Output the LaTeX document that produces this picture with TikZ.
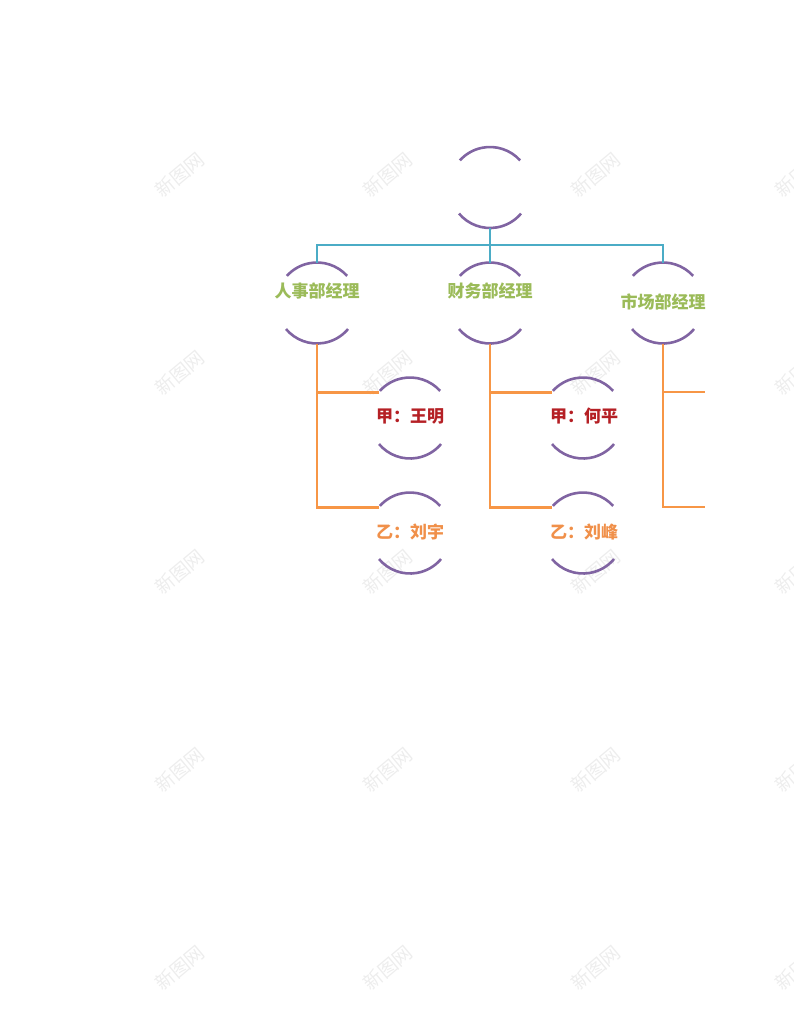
\documentclass[tikz,border=0pt]{standalone}
\usepackage{fontspec}
\newfontfamily\cjk{Noto Sans CJK SC}
\definecolor{arcpurple}{HTML}{8064A2}
\definecolor{linkblue}{HTML}{4BACC6}
\definecolor{linkorange}{HTML}{F79646}
\definecolor{mgrgreen}{HTML}{9BBB59}
\definecolor{staffred}{HTML}{B52025}
\definecolor{staffor}{HTML}{F0904A}
\tikzset{
  ring/.style={circle,minimum size=81pt,inner sep=0pt,outer sep=0pt,draw=none},
  arcline/.style={draw=arcpurple,line width=2.6pt},
  bluelink/.style={draw=linkblue,line width=2.3pt},
  orlink/.style={draw=linkorange,line width=2.3pt},
  lbl/.style={font=\cjk\bfseries\fontsize{17}{20}\selectfont,inner sep=0pt},
  wm/.style={font=\cjk\fontsize{19}{20}\selectfont,text=black!7,rotate=40,inner sep=0pt}
}
\newcommand{\ringarcs}[1]{%
  \draw[arcline] (#1.42) arc (42:138:40.5pt);
  \draw[arcline] (#1.220) arc (220:320:40.5pt);}
\begin{document}
\begin{tikzpicture}[x=1pt,y=1pt]
\useasboundingbox (0,0) rectangle (794,-1025);
% watermarks
\foreach \wx in {180,388,596,800}{
  \foreach \wy in {175,373,572,770,968}{
    \node[wm] at (\wx,-\wy) {新图网};
  }
}
% circles
\node[ring] (ceo) at (490,-187.5) {};
\node[ring] (hr) at (317,-303) {};
\node[ring] (fin) at (490,-303) {};
\node[ring] (mkt) at (663,-303) {};
\node[ring] (hra) at (410,-418) {};
\node[ring] (hrb) at (410,-533) {};
\node[ring] (fina) at (583,-418) {};
\node[ring] (finb) at (583,-533) {};
\coordinate (mkta) at (705,-392);
\coordinate (mktb) at (705,-507);
\ringarcs{ceo}\ringarcs{hr}\ringarcs{fin}\ringarcs{mkt}
\ringarcs{hra}\ringarcs{hrb}\ringarcs{fina}\ringarcs{finb}
% blue links
\coordinate (bj) at (490,-245);
\draw[bluelink] (ceo.south) -- (bj);
\draw[bluelink] (hr.north) -- (hr.north |- bj) -- (mkt.north |- bj) -- (mkt.north);
\draw[bluelink] (fin.north) -- (fin.north |- bj);
% orange links
\draw[orlink] (hr.south) |- (hra.141);
\draw[orlink] (hr.south) |- (hrb.141);
\draw[orlink] (fin.south) |- (fina.141);
\draw[orlink] (fin.south) |- (finb.141);
\draw[orlink] (mkt.south) |- (mkta);
\draw[orlink] (mkt.south) |- (mktb);
% labels
\node[lbl,text=white] (tceo) at (491,-185) {总经理};
\node[lbl,text=mgrgreen] (thr) at (317,-291) {人事部经理};
\node[lbl,text=mgrgreen] (tfin) at (490,-291) {财务部经理};
\node[lbl,text=mgrgreen] (tmkt) at (663,-302) {市场部经理};
\node[lbl,text=staffred] (thra) at (410,-416) {甲：王明};
\node[lbl,text=staffred] (tfina) at (584,-416) {甲：何平};
\node[lbl,text=staffor] (thrb) at (410,-532) {乙：刘宇};
\node[lbl,text=staffor] (tfinb) at (584,-532) {乙：刘峰};
\end{tikzpicture}
\end{document}
